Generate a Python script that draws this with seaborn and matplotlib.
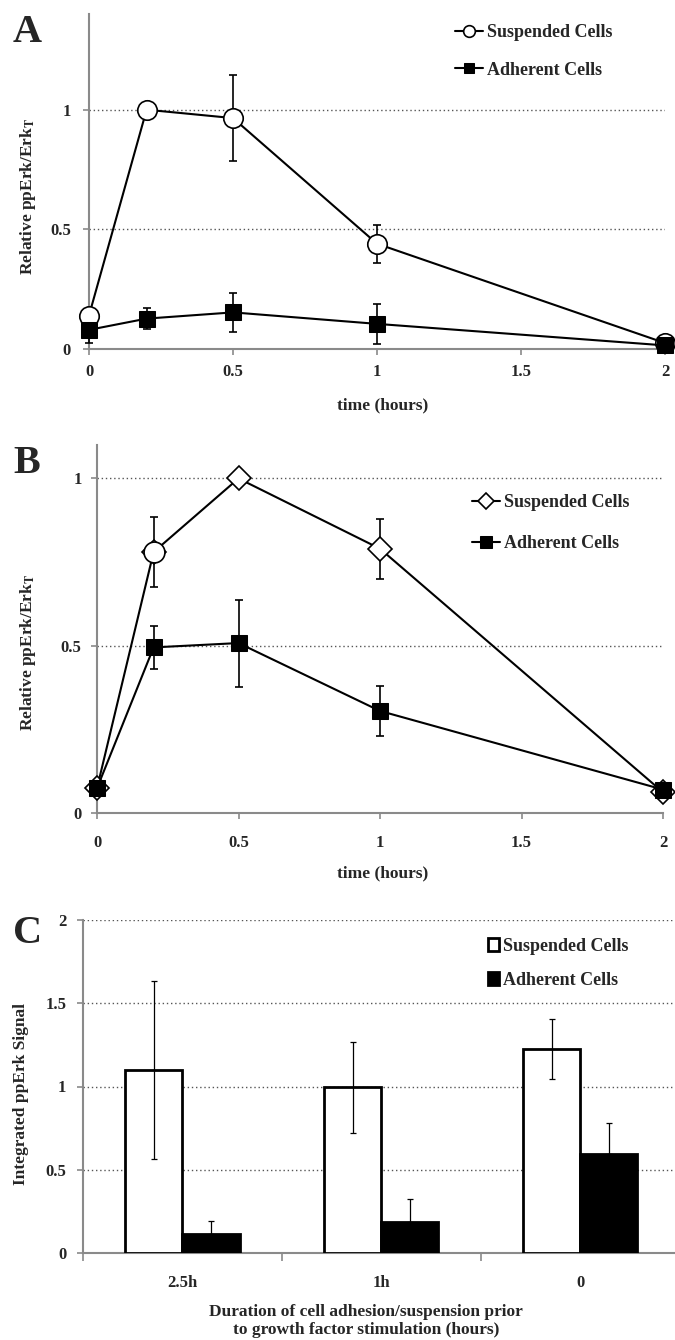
import numpy as np
import pandas as pd
import matplotlib
matplotlib.use("Agg")
import matplotlib.pyplot as plt
import seaborn as sns

sns.set_style("white")
plt.rcParams['font.family'] = ['Liberation Serif', 'DejaVu Serif']
plt.rcParams['font.weight'] = 'bold'
plt.rcParams['mathtext.fontset'] = 'stix'

# ---- data ----
time_hours = [0, 0.2, 0.5, 1, 2]

a_susp = [0.14, 1.0, 0.965, 0.44, 0.025]
a_susp_err = [0, 0, 0.18, 0.08, 0]
a_adh = [0.08, 0.127, 0.153, 0.105, 0.015]
a_adh_err = [0.056, 0.043, 0.081, 0.085, 0]

b_susp = [0.074, 0.78, 1.0, 0.79, 0.062]
b_susp_err = [0, 0.105, 0, 0.09, 0]
b_adh = [0.074, 0.495, 0.508, 0.305, 0.07]
b_adh_err = [0, 0.065, 0.13, 0.075, 0]

c_groups = ["2.5h", "1h", "0"]
c_susp = [1.10, 0.995, 1.228]
c_susp_err = [0.535, 0.275, 0.18]
c_adh = [0.112, 0.186, 0.597]
c_adh_err = [0.08, 0.137, 0.185]

cell_types = ["Suspended Cells", "Adherent Cells"]

SPINE = "#8a8a8a"
GRID = "#555555"
YLAB = r"Relative ppErk/Erk$_{\mathbf{T}}$"


def style_axes(ax, grid_vals):
    sns.despine(ax=ax)
    for s in ("left", "bottom"):
        ax.spines[s].set_color(SPINE)
        ax.spines[s].set_linewidth(1.5)
        ax.spines[s].set_zorder(1)
    for g in grid_vals:
        ax.axhline(g, color=GRID, lw=1, ls=(0, (1, 2)), zorder=0.5)
    ax.tick_params(axis="both", which="both", direction="out", color=SPINE,
                   width=1.2, length=4, labelsize=12, left=True, bottom=True)


def line_panel(ax, susp, susp_err, adh, adh_err, susp_marker, ylim, xpad, ypad):
    ax.errorbar(time_hours, susp, yerr=susp_err, fmt="none", ecolor="black",
                elinewidth=1.2, capsize=3, capthick=1.2, zorder=2, clip_on=False)
    ax.errorbar(time_hours, adh, yerr=adh_err, fmt="none", ecolor="black",
                elinewidth=1.2, capsize=3, capthick=1.2, zorder=2, clip_on=False)
    ms = 14 if susp_marker == "o" else 12
    sns.lineplot(x=time_hours, y=susp, ax=ax, color="black", lw=1.5,
                 marker=susp_marker, markersize=ms, markerfacecolor="white",
                 markeredgecolor="black", markeredgewidth=1.2, clip_on=False, zorder=3)
    h_susp = ax.lines[-1]
    sns.lineplot(x=time_hours, y=adh, ax=ax, color="black", lw=1.5,
                 marker="s", markersize=12, markerfacecolor="black",
                 markeredgecolor="black", clip_on=False, zorder=4)
    h_adh = ax.lines[-1]
    ax.set_xlim(0, 2)
    ax.set_ylim(*ylim)
    ax.set_xticks([0, 0.5, 1, 1.5, 2])
    ax.set_xticklabels(["0", "0.5", "1", "1.5", "2"])
    ax.set_yticks([0, 0.5, 1])
    ax.set_yticklabels(["0", "0.5", "1"])
    style_axes(ax, [0.5, 1])
    ax.tick_params(axis="x", pad=xpad)
    ax.tick_params(axis="y", pad=ypad)
    ax.set_xlabel("time (hours)", fontsize=12.5, fontweight="bold")
    ax.set_ylabel(YLAB, fontsize=12.5, fontweight="bold")
    ax.xaxis.label.set_va("center")
    ax.yaxis.label.set_va("center")
    return h_susp, h_adh


fig = plt.figure(figsize=(6.75, 13.4), dpi=100)
W, H = 675.0, 1340.0


def add_ax(l, r, top, bot):
    return fig.add_axes([l / W, 1 - bot / H, (r - l) / W, (bot - top) / H])


# ---- panel A ----
axA = add_ax(89, 665, 14, 349)
hs, ha = line_panel(axA, a_susp, a_susp_err, a_adh, a_adh_err, "o", (0, 1.40), 7, 9)
axA.xaxis.set_label_coords(0.51, -0.167)
axA.yaxis.set_label_coords(-0.106, 0.457)
fig.legend([hs, ha], cell_types, loc="upper left", bbox_to_anchor=(455 / W, 1 - 24 / H),
           frameon=False, fontsize=13, handlelength=1.55, handletextpad=0.2,
           labelspacing=1.15, borderpad=0, borderaxespad=0, markerscale=0.6)

# ---- panel B ----
axB = add_ax(97, 663, 445, 813)
hs, ha = line_panel(axB, b_susp, b_susp_err, b_adh, b_adh_err, "D", (0, 1.10), 12, 7)
# the 0.2 h suspended point is drawn as a circle in the original
axB.plot(time_hours[1], b_susp[1], marker="o", markersize=15, markerfacecolor="white",
         markeredgecolor="black", markeredgewidth=1.2, zorder=3.5, ls="none")
axB.xaxis.set_label_coords(0.505, -0.163)
axB.yaxis.set_label_coords(-0.122, 0.4375)
fig.legend([hs, ha], cell_types, loc="upper left", bbox_to_anchor=(472 / W, 1 - 494 / H),
           frameon=False, fontsize=13, handlelength=1.55, handletextpad=0.2,
           labelspacing=1.35, borderpad=0, borderaxespad=0, markerscale=0.7)

# ---- panel C ----
axC = add_ax(83, 675, 920, 1253)
df_c = pd.DataFrame({
    "group": c_groups * 2,
    "cell": [cell_types[0]] * 3 + [cell_types[1]] * 3,
    "value": c_susp + c_adh,
})
sns.barplot(data=df_c, x="group", y="value", hue="cell", order=c_groups,
            hue_order=cell_types, palette={cell_types[0]: "white", cell_types[1]: "black"},
            edgecolor="black", linewidth=2, width=0.573, saturation=1,
            errorbar=None, ax=axC, zorder=2)
for cont, err, lo in zip(axC.containers, [c_susp_err, c_adh_err], [True, False]):
    xs = [p.get_x() + p.get_width() / 2 for p in cont.patches]
    ys = [p.get_height() for p in cont.patches]
    yerr = [err, err] if lo else [[0] * len(err), err]
    axC.errorbar(xs, ys, yerr=yerr, fmt="none", ecolor="black", elinewidth=0.9,
                 capsize=2, capthick=0.9, zorder=3)
axC.set_ylim(0, 2)
axC.set_xlim(-0.5, 2.475)
axC.set_yticks([0, 0.5, 1, 1.5, 2])
axC.set_yticklabels(["0", "0.5", "1", "1.5", "2"])
style_axes(axC, [0.5, 1, 1.5, 2])
axC.set_xticks([-0.5, 0.5, 1.5], minor=True)
axC.tick_params(axis="x", which="major", length=0, pad=16)
axC.tick_params(axis="x", which="minor", length=6)
axC.tick_params(axis="y", pad=8)
axC.set_xlabel("Duration of cell adhesion/suspension prior\nto growth factor stimulation (hours)",
               fontsize=12.5, fontweight="bold", linespacing=1.2)
axC.set_ylabel("Integrated ppErk Signal", fontsize=12.5, fontweight="bold")
axC.xaxis.label.set_va("center")
axC.yaxis.label.set_va("center")
axC.xaxis.set_label_coords(0.478, -0.204)
axC.yaxis.set_label_coords(-0.105, 0.477)
leg = axC.get_legend()
if leg is not None:
    leg.remove()
bar_handles = [axC.containers[0].patches[0], axC.containers[1].patches[0]]
fig.legend(bar_handles, cell_types, loc="upper left", bbox_to_anchor=(488 / W, 1 - 938 / H),
           frameon=False, fontsize=13, handlelength=0.6, handleheight=0.75,
           handletextpad=0.25, labelspacing=0.95, borderpad=0, borderaxespad=0)

# ---- panel letters ----
for letter, base in zip(["A", "B", "C"], [42, 473, 943]):
    fig.text(13 / W, 1 - base / H, letter, fontsize=29, fontweight="bold",
             va="baseline", ha="left")

fig.savefig("out.png", dpi=100)
